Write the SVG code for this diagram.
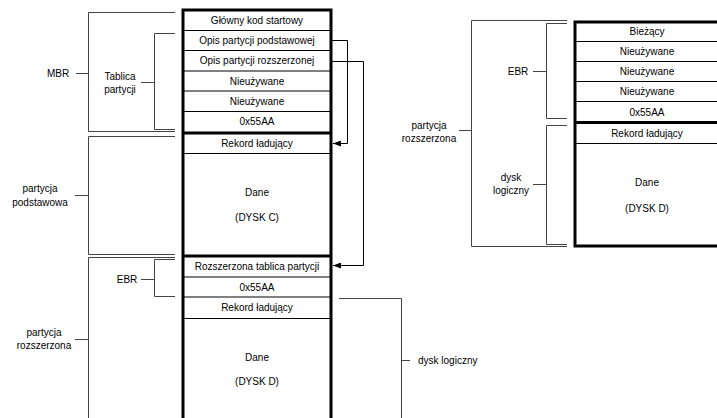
<svg xmlns="http://www.w3.org/2000/svg" width="717" height="418" viewBox="0 0 717 418">
<defs>
<style>
text{font-family:"Liberation Sans",Arial,sans-serif;font-size:10px;fill:#000;text-anchor:middle}
.thick{stroke:#000;stroke-width:3;fill:none}
.thin{stroke:#000;stroke-width:1;fill:none}
.br{stroke:#444;stroke-width:1;fill:none}
.conn{stroke:#000;stroke-width:1;fill:none}
</style>
<marker id="ah" markerWidth="8" markerHeight="6" refX="8" refY="3" orient="auto" markerUnits="userSpaceOnUse">
<path d="M0,0 L8,3 L0,6 z" fill="#000"/>
</marker>
</defs>
<rect width="717" height="418" fill="#fff"/>

<g id="main-column">
<path class="thin" d="M183,30.5H331M183,50.5H331M183,71H331M183,91H331M183,111.5H331M183,153.5H331M183,277H331M183,297H331M183,318.5H331"/>
<path class="thick" d="M183,420V10H331V420M183,133H331M183,256H331"/>
<text x="257" y="24">Główny kod startowy</text>
<text x="257" y="44">Opis partycji podstawowej</text>
<text x="257" y="64">Opis partycji rozszerzonej</text>
<text x="257" y="84.5">Nieużywane</text>
<text x="257" y="105">Nieużywane</text>
<text x="257" y="125">0x55AA</text>
<text x="257" y="146.5">Rekord ładujący</text>
<text x="257" y="196">Dane</text>
<text x="257" y="221">(DYSK C)</text>
<text x="257" y="270">Rozszerzona tablica partycji</text>
<text x="257" y="290.5">0x55AA</text>
<text x="257" y="311">Rekord ładujący</text>
<text x="257" y="360.5">Dane</text>
<text x="257" y="385">(DYSK D)</text>
</g>

<g id="right-column">
<path class="thin" d="M575,41.5H720M575,61.5H720M575,81.5H720M575,101.5H720M575,143.5H720"/>
<path class="thick" d="M720,22H575V246H720M575,122.5H720"/>
<text x="647" y="35">Bieżący</text>
<text x="647" y="55">Nieużywane</text>
<text x="647" y="75">Nieużywane</text>
<text x="647" y="95">Nieużywane</text>
<text x="647" y="115.5">0x55AA</text>
<text x="647" y="136.5">Rekord ładujący</text>
<text x="647" y="186">Dane</text>
<text x="647" y="211.5">(DYSK D)</text>
</g>

<g id="label-mbr">
<path class="br" d="M175,12.5H88.5V131.5H175M76,73.5H88.5"/>
<text x="58" y="77">MBR</text>
</g>
<g id="label-tablica">
<path class="br" d="M175,33.5H154.5V129.5H175M141,82.5H154.5"/>
<text x="120" y="80">Tablica</text>
<text x="120" y="93">partycji</text>
</g>
<g id="label-podstawowa">
<path class="br" d="M175,136.5H88.5V254.5H175M75,195.5H88.5"/>
<text x="40" y="192">partycja</text>
<text x="40" y="206">podstawowa</text>
</g>
<g id="label-rozszerzona">
<path class="br" d="M175,257.5H88.5V420M75,339.5H88.5"/>
<text x="44" y="336">partycja</text>
<text x="44" y="349">rozszerzona</text>
</g>
<g id="label-ebr">
<path class="br" d="M175,259.5H154.5V296.5H175M141,279.5H154.5"/>
<text x="127" y="283">EBR</text>
</g>
<g id="label-dysk-logiczny">
<path class="br" d="M339,298.5H401.5V420M401.5,360.5H410"/>
<text x="418" y="364" style="text-anchor:start">dysk logiczny</text>
</g>
<g id="label-r-rozszerzona">
<path class="br" d="M567,20.5H471.5V246.5H567M459,130.5H471.5"/>
<text x="429" y="129">partycja</text>
<text x="429" y="142">rozszerzona</text>
</g>
<g id="label-r-ebr">
<path class="br" d="M567,23.5H546.5V118.5H567M533,71.5H546.5"/>
<text x="518" y="75">EBR</text>
</g>
<g id="label-r-dysk">
<path class="br" d="M567,125.5H546.5V244.5H567M533,184.5H546.5"/>
<text x="511" y="181">dysk</text>
<text x="511" y="194">logiczny</text>
</g>

<g id="connectors">
<path class="conn" d="M331,40.5H347.5V143.5H333" marker-end="url(#ah)"/>
<path class="conn" d="M331,61.5H363.5V265.5H333" marker-end="url(#ah)"/>
</g>
</svg>
